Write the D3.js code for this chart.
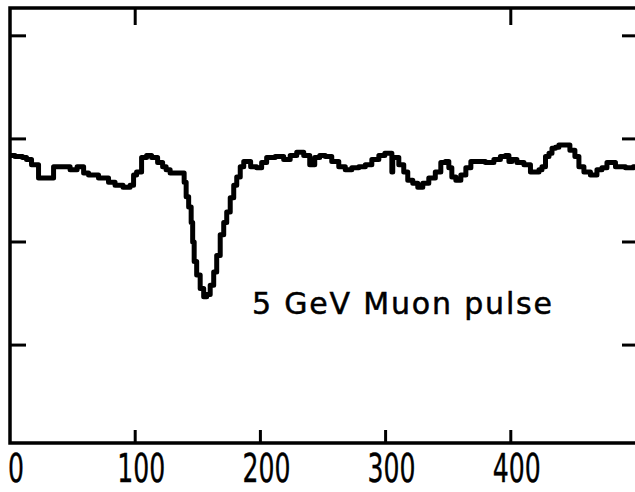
<!DOCTYPE html>
<html>
<head>
<meta charset="utf-8">
<script src="https://cdn.jsdelivr.net/npm/d3@7"></script>
<style>
  body { margin: 0; background: #fff; }
  svg { display: block; }
</style>
</head>
<body>
<div class="chart"></div>
<script>
// channel numbers
let channels = [0, 8, 12, 14.4, 20, 25.6, 33.6, 36, 46.4, 49.6, 57.6, 60, 65.5, 75.9, 81.5, 86.3, 94.3, 97.5,
  99.9, 102.3, 107.9, 110.3, 115.9, 119.9, 123.9, 125.5, 130.3, 138.3, 139.9, 141.5, 143.9, 145.5, 146.3,
  147.9, 150.3, 153.5, 155.9, 158.3, 161.5, 163.9, 166.3, 169.5, 171.9, 174.3, 177.5, 179.9, 182.3, 185.5,
  187.9, 190.2, 194.2, 199.8, 202.2, 207.8, 215.8, 221.4, 226.2, 231.8, 237.4, 241.4, 245.4, 249.4, 254.2,
  259.8, 265.4, 270.2, 275.8, 281.4, 286.2, 291.8, 297.4, 301.4, 304.6, 305.4, 306, 307.8, 313.3, 315.7,
  319.7, 323.7, 327.7, 331.7, 337.3, 342.1, 346.1, 349.3, 351.7, 354.1, 358.1, 362.1, 366.1, 370.1, 375.7,
  383.7, 389.3, 394.1, 397.3, 399.7, 402.1, 407.7, 413.3, 418.1, 421.3, 423.7, 426.1, 429.3, 431.7, 434.1,
  437.2, 439.6, 445.2, 449.2, 453.2, 455.6, 461.2, 466, 471.6, 474, 479.6, 487.6, 495.6, 500];

// pulse amplitude (in y divisions)
let amplitude = [2.84, 2.83, 2.82, 2.80, 2.75, 2.62, 2.62, 2.73, 2.73, 2.70, 2.73, 2.67, 2.65, 2.62, 2.58, 2.55, 2.53, 2.55,
  2.65, 2.68, 2.82, 2.84, 2.82, 2.77, 2.73, 2.70, 2.67, 2.67, 2.58, 2.44, 2.34, 2.19, 2.00,
  1.81, 1.68, 1.55, 1.47, 1.49, 1.58, 1.71, 1.87, 2.07, 2.19, 2.29, 2.43, 2.55, 2.63, 2.73,
  2.78, 2.78, 2.73, 2.72, 2.77, 2.82, 2.83, 2.80, 2.84, 2.87, 2.84, 2.75, 2.82, 2.84, 2.83,
  2.78, 2.73, 2.70, 2.72, 2.73, 2.75, 2.80, 2.84, 2.86, 2.86, 2.68, 2.82, 2.82, 2.75, 2.68,
  2.60, 2.57, 2.53, 2.57, 2.62, 2.68, 2.77, 2.78, 2.72, 2.63, 2.60, 2.65, 2.72, 2.78, 2.78,
  2.77, 2.80, 2.83, 2.84, 2.78, 2.80, 2.77, 2.75, 2.68, 2.68, 2.70, 2.73, 2.83, 2.86, 2.91,
  2.92, 2.94, 2.94, 2.89, 2.83, 2.73, 2.68, 2.65, 2.70, 2.72, 2.77, 2.73, 2.72, 2.73];

let xTicks = [100, 200, 300, 400];
let xLabels = [0, 100, 200, 300, 400];
let topTicks = [100, 400];
let yTicks = [1, 2, 3, 4];
let caption = "5 GeV Muon pulse";

let svgWidth = 635;
let svgHeight = 492;
let margin = {top: 8, right: -1, bottom: 49, left: 10};
let width = svgWidth - margin.left - margin.right;
let height = svgHeight - margin.top - margin.bottom;

let svg = d3.select(".chart").append("svg")
  .attr("width", svgWidth)
  .attr("height", svgHeight);

let chartGroup = svg.append("g")
  .attr("transform", `translate(${margin.left}, ${margin.top})`);

let xScale = d3.scaleLinear().domain([0, 500]).range([0, width]);
let yScale = d3.scaleLinear().domain([0.05, 4.27]).range([height, 0]);

// frame
chartGroup.append("path")
  .attr("d", `M${width},0 H0 V${height} H${width}`)
  .attr("fill", "none")
  .attr("stroke", "#000")
  .attr("stroke-width", 3.5);

// bottom ticks
chartGroup.selectAll(".xtick")
  .data(xTicks)
  .enter()
  .append("line")
  .attr("x1", d => xScale(d))
  .attr("x2", d => xScale(d))
  .attr("y1", height)
  .attr("y2", height - 13)
  .attr("stroke", "#000")
  .attr("stroke-width", 3);

// top ticks
chartGroup.selectAll(".ttick")
  .data(topTicks)
  .enter()
  .append("line")
  .attr("x1", d => xScale(d))
  .attr("x2", d => xScale(d))
  .attr("y1", 0)
  .attr("y2", 17)
  .attr("stroke", "#000")
  .attr("stroke-width", 3);

// left and right ticks
chartGroup.selectAll(".ltick")
  .data(yTicks)
  .enter()
  .append("line")
  .attr("x1", 0)
  .attr("x2", 16)
  .attr("y1", d => yScale(d))
  .attr("y2", d => yScale(d))
  .attr("stroke", "#000")
  .attr("stroke-width", 3);

chartGroup.selectAll(".rtick")
  .data(yTicks)
  .enter()
  .append("line")
  .attr("x1", width - 14)
  .attr("x2", width)
  .attr("y1", d => yScale(d))
  .attr("y2", d => yScale(d))
  .attr("stroke", "#000")
  .attr("stroke-width", 3);

// x labels
chartGroup.selectAll(".xlabel")
  .data(xLabels)
  .enter()
  .append("text")
  .attr("x", d => xScale(d) + 6)
  .attr("y", height + 39)
  .attr("text-anchor", "middle")
  .attr("textLength", d => String(d).length * 16)
  .attr("lengthAdjust", "spacingAndGlyphs")
  .attr("stroke", "#000")
  .attr("stroke-width", 0.4)
  .style("font-family", "DejaVu Sans, sans-serif")
  .style("font-size", "39px")
  .text(d => d);

// the trace
let trace = channels.map((c, i) => [c, amplitude[i]]);
let line = d3.line()
  .x(d => xScale(d[0]))
  .y(d => yScale(d[1]))
  .curve(d3.curveStep);

chartGroup.append("path")
  .datum(trace)
  .attr("d", line)
  .attr("fill", "none")
  .attr("stroke", "#000")
  .attr("stroke-width", 5)
  .attr("stroke-linejoin", "round");

// caption
chartGroup.append("text")
  .attr("x", 242)
  .attr("y", 306)
  .attr("textLength", 300)
  .attr("lengthAdjust", "spacing")
  .attr("stroke", "#000")
  .attr("stroke-width", 0.5)
  .style("font-family", "DejaVu Sans, sans-serif")
  .style("font-size", "30px")
  .text(caption);
</script>
</body>
</html>
